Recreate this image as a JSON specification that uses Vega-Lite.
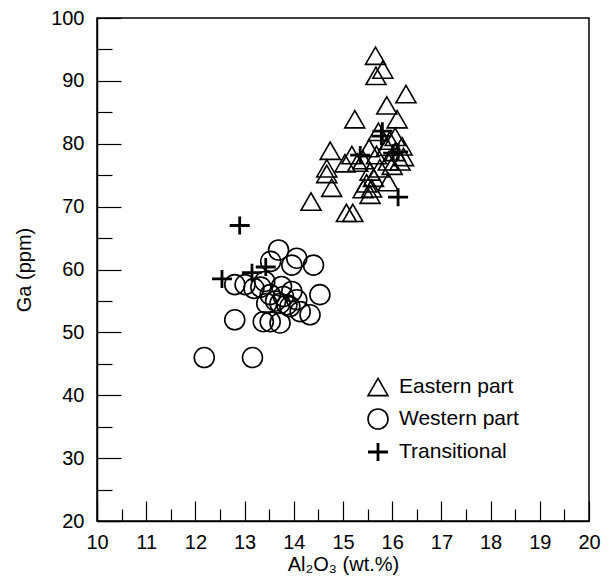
{
  "$schema": "https://vega.github.io/schema/vega-lite/v6.json",
  "width": 492,
  "height": 503,
  "autosize": "none",
  "padding": {"left": 97, "top": 18, "right": 19, "bottom": 61},
  "background": "white",
  "config": {
    "font": "Liberation Sans",
    "view": {"stroke": "black", "strokeWidth": 1.5}
  },
  "data": {
    "values": [
      {"x": 15.66, "y": 94.0, "group": "Eastern part"},
      {"x": 15.81, "y": 91.8, "group": "Eastern part"},
      {"x": 15.67, "y": 90.8, "group": "Eastern part"},
      {"x": 16.28, "y": 87.9, "group": "Eastern part"},
      {"x": 15.89, "y": 86.1, "group": "Eastern part"},
      {"x": 15.24, "y": 83.9, "group": "Eastern part"},
      {"x": 16.10, "y": 83.9, "group": "Eastern part"},
      {"x": 15.72, "y": 81.9, "group": "Eastern part"},
      {"x": 16.06, "y": 81.1, "group": "Eastern part"},
      {"x": 14.74, "y": 78.9, "group": "Eastern part"},
      {"x": 15.18, "y": 78.2, "group": "Eastern part"},
      {"x": 15.53, "y": 79.3, "group": "Eastern part"},
      {"x": 15.04, "y": 76.9, "group": "Eastern part"},
      {"x": 15.68, "y": 78.2, "group": "Eastern part"},
      {"x": 15.89, "y": 79.5, "group": "Eastern part"},
      {"x": 16.06, "y": 78.7, "group": "Eastern part"},
      {"x": 16.23, "y": 77.9, "group": "Eastern part"},
      {"x": 16.16, "y": 77.2, "group": "Eastern part"},
      {"x": 15.92, "y": 77.2, "group": "Eastern part"},
      {"x": 15.41, "y": 77.4, "group": "Eastern part"},
      {"x": 15.75, "y": 76.1, "group": "Eastern part"},
      {"x": 15.55, "y": 75.6, "group": "Eastern part"},
      {"x": 14.67, "y": 76.1, "group": "Eastern part"},
      {"x": 14.67, "y": 75.2, "group": "Eastern part"},
      {"x": 14.77, "y": 73.0, "group": "Eastern part"},
      {"x": 15.48, "y": 73.7, "group": "Eastern part"},
      {"x": 15.58, "y": 72.9, "group": "Eastern part"},
      {"x": 15.55, "y": 71.9, "group": "Eastern part"},
      {"x": 15.92, "y": 73.9, "group": "Eastern part"},
      {"x": 15.41, "y": 72.8, "group": "Eastern part"},
      {"x": 15.07, "y": 69.0, "group": "Eastern part"},
      {"x": 15.20, "y": 69.0, "group": "Eastern part"},
      {"x": 14.35, "y": 70.8, "group": "Eastern part"},
      {"x": 15.95, "y": 80.5, "group": "Eastern part"},
      {"x": 16.20, "y": 79.6, "group": "Eastern part"},
      {"x": 15.62, "y": 74.6, "group": "Eastern part"},
      {"x": 15.30, "y": 77.0, "group": "Eastern part"},
      {"x": 16.00, "y": 76.5, "group": "Eastern part"},
      {"x": 13.69, "y": 63.1, "group": "Western part"},
      {"x": 14.06, "y": 61.8, "group": "Western part"},
      {"x": 14.40, "y": 60.7, "group": "Western part"},
      {"x": 13.96, "y": 60.7, "group": "Western part"},
      {"x": 13.53, "y": 61.3, "group": "Western part"},
      {"x": 12.80, "y": 57.6, "group": "Western part"},
      {"x": 13.01, "y": 57.6, "group": "Western part"},
      {"x": 13.19, "y": 57.0, "group": "Western part"},
      {"x": 13.41, "y": 58.1, "group": "Western part"},
      {"x": 13.52, "y": 56.0, "group": "Western part"},
      {"x": 13.75, "y": 57.3, "group": "Western part"},
      {"x": 13.96, "y": 56.5, "group": "Western part"},
      {"x": 14.53, "y": 56.0, "group": "Western part"},
      {"x": 13.45, "y": 54.6, "group": "Western part"},
      {"x": 13.72, "y": 54.6, "group": "Western part"},
      {"x": 13.86, "y": 54.4, "group": "Western part"},
      {"x": 14.06, "y": 55.2, "group": "Western part"},
      {"x": 14.13, "y": 53.3, "group": "Western part"},
      {"x": 14.33, "y": 52.8, "group": "Western part"},
      {"x": 12.80, "y": 52.0, "group": "Western part"},
      {"x": 13.38, "y": 51.7, "group": "Western part"},
      {"x": 13.52, "y": 51.7, "group": "Western part"},
      {"x": 13.72, "y": 51.5, "group": "Western part"},
      {"x": 13.33, "y": 57.2, "group": "Western part"},
      {"x": 13.79, "y": 55.7, "group": "Western part"},
      {"x": 13.92, "y": 54.1, "group": "Western part"},
      {"x": 13.63, "y": 55.0, "group": "Western part"},
      {"x": 12.18, "y": 46.0, "group": "Western part"},
      {"x": 13.16, "y": 46.0, "group": "Western part"},
      {"x": 12.90, "y": 67.0, "group": "Transitional"},
      {"x": 12.54, "y": 58.5, "group": "Transitional"},
      {"x": 13.15, "y": 59.5, "group": "Transitional"},
      {"x": 13.43, "y": 60.4, "group": "Transitional"},
      {"x": 15.80, "y": 82.0, "group": "Transitional"},
      {"x": 15.78, "y": 81.2, "group": "Transitional"},
      {"x": 15.35, "y": 78.2, "group": "Transitional"},
      {"x": 16.02, "y": 78.5, "group": "Transitional"},
      {"x": 16.12, "y": 78.7, "group": "Transitional"},
      {"x": 16.12, "y": 71.5, "group": "Transitional"}
    ]
  },
  "layer": [
    {
      "mark": {"type": "point", "filled": false, "size": 400, "color": "black", "strokeWidth": 1.6, "opacity": 1},
      "encoding": {
        "x": {
          "field": "x", "type": "quantitative",
          "scale": {"domain": [10, 20], "nice": false, "zero": false},
          "axis": {
            "orient": "bottom",
            "values": [10, 11, 12, 13, 14, 15, 16, 17, 18, 19, 20],
            "grid": false, "domain": true, "domainColor": "black", "domainWidth": 1.5,
            "ticks": true, "tickSize": -20, "tickColor": "black", "tickWidth": 1.2,
            "labelFontSize": 20, "labelColor": "black", "labelPadding": 31, "labelFlush": false,
            "title": "Al₂O₃ (wt.%)", "titleFontSize": 20, "titleFontWeight": "normal",
            "titleColor": "black", "titlePadding": 2
          }
        },
        "y": {
          "field": "y", "type": "quantitative",
          "scale": {"domain": [20, 100], "nice": false, "zero": false},
          "axis": {
            "orient": "left",
            "values": [20, 30, 40, 50, 60, 70, 80, 90, 100],
            "grid": false, "domain": true, "domainColor": "black", "domainWidth": 1.5,
            "ticks": true, "tickSize": -24, "tickColor": "black", "tickWidth": 1.2,
            "labelFontSize": 20, "labelColor": "black", "labelPadding": 37, "labelFlush": false,
            "title": "Ga (ppm)", "titleFontSize": 20, "titleFontWeight": "normal",
            "titleColor": "black", "titlePadding": 16
          }
        },
        "shape": {
          "field": "group", "type": "nominal",
          "scale": {
            "domain": ["Eastern part", "Western part", "Transitional"],
            "range": ["triangle-up", "circle", "M-1,-0.06L1,-0.06M-1,0.06L1,0.06M-0.06,-0.9L-0.06,0.9M0.06,-0.9L0.06,0.9"]
          },
          "legend": {
            "title": null, "orient": "none", "legendX": 270, "legendY": 358,
            "labelFontSize": 21, "labelColor": "black", "labelOffset": 10,
            "symbolSize": 400, "symbolStrokeColor": "black", "symbolStrokeWidth": 1.6,
            "symbolFillColor": "transparent",
            "rowPadding": 6, "padding": 0
          }
        }
      }
    },
    {
      "mark": {"type": "point", "opacity": 0},
      "encoding": {
        "x": {
          "field": "x", "type": "quantitative",
          "axis": {
            "orient": "bottom",
            "values": [10.5, 11.5, 12.5, 13.5, 14.5, 15.5, 16.5, 17.5, 18.5, 19.5],
            "grid": false, "domain": false, "labels": false, "title": null,
            "ticks": true, "tickSize": -12, "tickColor": "black", "tickWidth": 1.2
          }
        },
        "y": {
          "field": "y", "type": "quantitative",
          "axis": {
            "orient": "left",
            "values": [25, 35, 45, 55, 65, 75, 85, 95],
            "grid": false, "domain": false, "labels": false, "title": null,
            "ticks": true, "tickSize": -15, "tickColor": "black", "tickWidth": 1.2
          }
        }
      }
    }
  ],
  "resolve": {"axis": {"x": "independent", "y": "independent"}}
}
